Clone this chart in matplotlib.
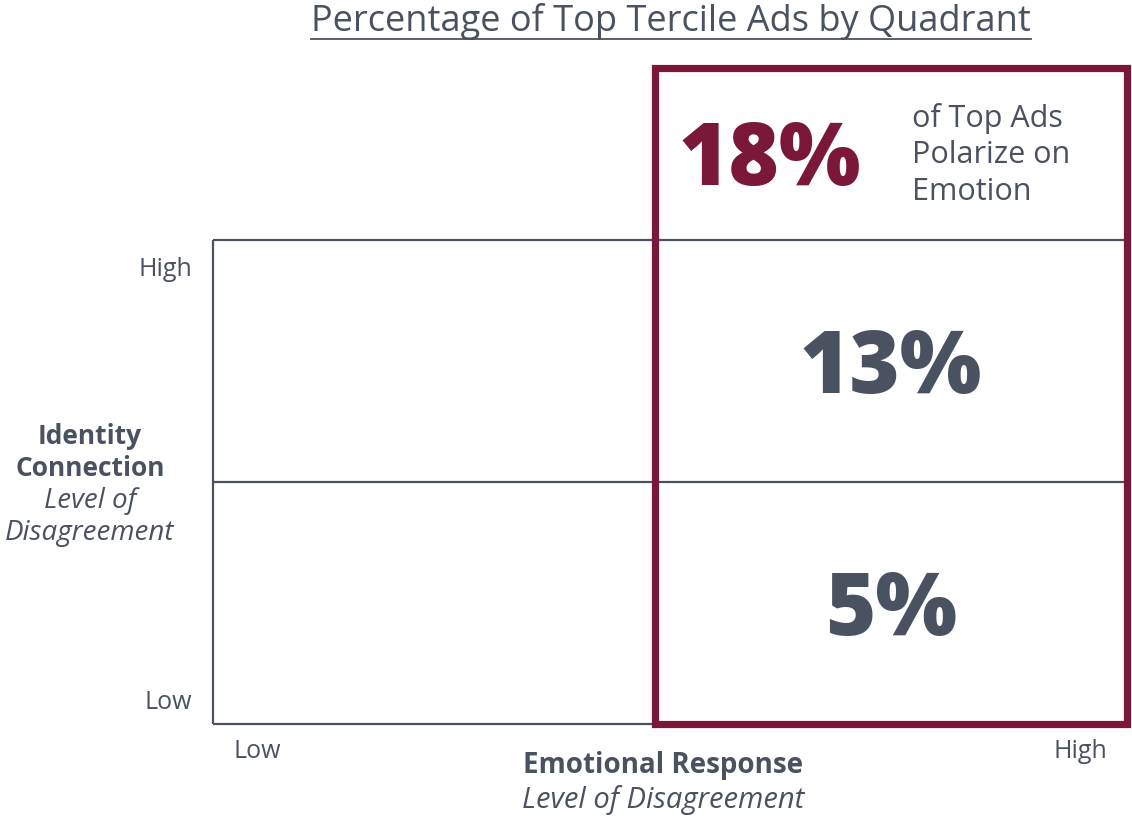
import matplotlib
matplotlib.use("Agg")
import matplotlib.pyplot as plt
from matplotlib.patches import Rectangle

# ---- data ----
quadrant_values = [18, 13, 5]            # highlighted, high/high, high/low
quadrant_cols = [1, 1]                   # column index of high-emotion quadrants
quadrant_rows = [1, 0]                   # row index (1 = high identity, 0 = low)
x_ticklabels = ["Low", "High"]
y_ticklabels = ["Low", "High"]
title = "Percentage of Top Tercile Ads by Quadrant"
callout_text = "of Top Ads\nPolarize on\nEmotion"
x_title = "Emotional Response"
y_title_lines = ["Identity", "Connection"]
y_sub_lines = ["Level of", "Disagreement"]
sub_title = "Level of Disagreement"

GRAY = "#4a5261"
MAROON = "#7b1738"
W, H = 1132, 820

plt.rcParams['font.family'] = ['Open Sans', 'DejaVu Sans']
fig = plt.figure(figsize=(W / 100, H / 100), dpi=100)

def fx(px):
    return px / W

def fy(py):
    return 1 - py / H

ax = fig.add_axes([fx(213), fy(725), fx(1127) - fx(213), (725 - 241) / H])
ax.set_xlim(0, 2)
ax.set_ylim(0, 2)
ax.axis("off")

divider = (655 - 213) / (1127 - 213) * 2  # column boundary in data units

for yv in [0, 1, 2]:
    ax.plot([0, 2], [yv, yv], color=GRAY, lw=1.6, solid_capstyle="butt", clip_on=False, zorder=2)
ax.plot([0, 0], [0, 2], color=GRAY, lw=1.6, solid_capstyle="butt", clip_on=False, zorder=2)

top_ext = (725 - 68.5) / (725 - 241) * 2
ax.add_patch(Rectangle((divider, 0), 2 - divider, top_ext, fill=False,
                       edgecolor=MAROON, lw=5.2, clip_on=False, zorder=3,
                       joinstyle="miter"))

# quadrant values: cap-height centered on the quadrant centre
for v, c, r in zip(quadrant_values[1:], quadrant_cols, quadrant_rows):
    cx = (divider + 2) / 2
    ax.annotate(f"{v}%", xy=(cx, r + 0.5), xytext=(0, -22.5), textcoords="offset points",
                ha="center", va="baseline", fontsize=62, fontweight="heavy",
                color=GRAY, zorder=4)

ax.annotate(f"{quadrant_values[0]}%", xy=(divider + (770 - 655) / 457, 2 + (241 - 154) / 242),
            xytext=(0, -22.5), textcoords="offset points", ha="center", va="baseline",
            fontsize=62, fontweight="heavy", color=MAROON, annotation_clip=False)
fig.text(fx(912), fy(155), callout_text, ha="left", va="center", fontsize=22,
         color=GRAY, linespacing=1.3)

t = fig.text(fx(671), fy(21), title, ha="center", va="center", fontsize=26, color=GRAY)
fig.canvas.draw()
bb = t.get_window_extent()
fig.add_artist(plt.Line2D([bb.x0 / W, bb.x1 / W], [fy(39.5), fy(39.5)], color=GRAY, lw=1.3))

fig.text(fx(192), fy(270), y_ticklabels[1], ha="right", va="center", fontsize=18, color=GRAY)
fig.text(fx(192), fy(703), y_ticklabels[0], ha="right", va="center", fontsize=18, color=GRAY)
fig.text(fx(257), fy(752), x_ticklabels[0], ha="center", va="center", fontsize=18, color=GRAY)
fig.text(fx(1080), fy(752), x_ticklabels[1], ha="center", va="center", fontsize=18, color=GRAY)

for i, s in enumerate(y_title_lines):
    fig.text(fx(90), fy(437 + 32 * i), s, ha="center", va="center", fontsize=19,
             color=GRAY, fontweight="bold")
for i, s in enumerate(y_sub_lines):
    fig.text(fx(90), fy(501 + 32 * i), s, ha="center", va="center", fontsize=20,
             color=GRAY, style="italic")
fig.text(fx(663), fy(766), x_title, ha="center", va="center", fontsize=20, color=GRAY,
         fontweight="bold")
fig.text(fx(663), fy(800), sub_title, ha="center", va="center", fontsize=21, color=GRAY,
         style="italic")

fig.savefig("out.png", dpi=100, facecolor="white")
